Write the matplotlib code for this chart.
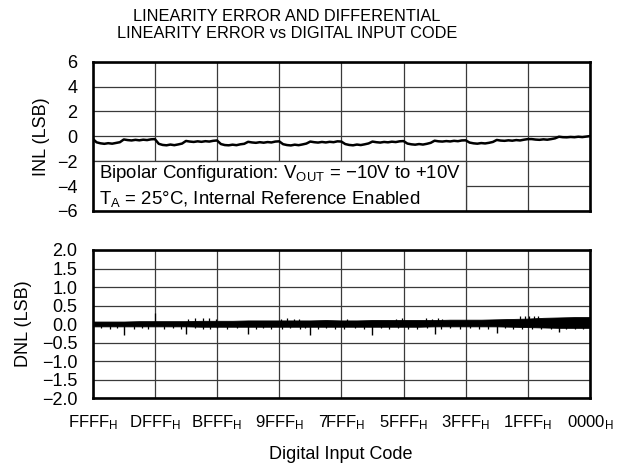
import numpy as np
import matplotlib
matplotlib.use("Agg")
import matplotlib.pyplot as plt
from matplotlib.patches import Rectangle

plt.rcParams['font.family'] = ['Liberation Sans', 'DejaVu Sans']
plt.rcParams['mathtext.fontset'] = 'custom'
plt.rcParams['mathtext.rm'] = 'Liberation Sans'
plt.rcParams['mathtext.it'] = 'Liberation Sans:italic'
plt.rcParams['mathtext.bf'] = 'Liberation Sans:bold'

# ---------------- data ----------------
tick_codes = [65535, 57343, 49151, 40959, 32767, 24575, 16383, 8191, 0]
tick_labels = ['FFFF', 'DFFF', 'BFFF', '9FFF', '7FFF', '5FFF', '3FFF', '1FFF', '0000']

inl_values = [
    -0.20, -0.48, -0.56, -0.60, -0.55, -0.59, -0.53, -0.47, -0.25, -0.30, -0.33, -0.28, -0.32, -0.27, -0.30, -0.24,
    -0.22, -0.60, -0.69, -0.72, -0.66, -0.71, -0.65, -0.58, -0.37, -0.42, -0.45, -0.40, -0.44, -0.39, -0.42, -0.36,
    -0.33, -0.62, -0.70, -0.72, -0.67, -0.71, -0.64, -0.60, -0.44, -0.49, -0.52, -0.47, -0.51, -0.46, -0.49, -0.42,
    -0.40, -0.63, -0.70, -0.73, -0.67, -0.71, -0.65, -0.58, -0.42, -0.47, -0.50, -0.45, -0.49, -0.44, -0.47, -0.40,
    -0.42, -0.62, -0.69, -0.72, -0.66, -0.70, -0.64, -0.57, -0.42, -0.47, -0.50, -0.45, -0.48, -0.43, -0.46, -0.40,
    -0.38, -0.58, -0.64, -0.67, -0.62, -0.66, -0.60, -0.52, -0.35, -0.40, -0.42, -0.38, -0.41, -0.36, -0.39, -0.33,
    -0.32, -0.50, -0.56, -0.59, -0.54, -0.57, -0.52, -0.45, -0.29, -0.34, -0.36, -0.32, -0.35, -0.30, -0.33, -0.27,
    -0.22, -0.22, -0.26, -0.28, -0.24, -0.27, -0.22, -0.16, -0.03, -0.07, -0.08, -0.05, -0.07, -0.03, -0.06, -0.02,
    0.02,
]
inl_codes = np.linspace(65535, 0, len(inl_values))

dnl_upper = [0.07, 0.07, 0.07, 0.08, 0.08, 0.08, 0.08, 0.09, 0.09, 0.09, 0.10, 0.10,
             0.10, 0.10, 0.10, 0.11, 0.10, 0.10, 0.11, 0.11, 0.11, 0.11, 0.11, 0.12,
             0.12, 0.12, 0.13, 0.14, 0.15, 0.17, 0.18, 0.19, 0.19]
dnl_lower = [-0.06, -0.06, -0.06, -0.06, -0.06, -0.06, -0.06, -0.07, -0.07, -0.07, -0.07, -0.07,
             -0.07, -0.07, -0.07, -0.07, -0.07, -0.07, -0.07, -0.07, -0.07, -0.07, -0.06, -0.06,
             -0.06, -0.06, -0.06, -0.07, -0.08, -0.09, -0.10, -0.10, -0.10]
dnl_env_codes = np.linspace(65535, 0, len(dnl_upper))

big_spike_codes = [61439, 53247, 45055, 36863, 28671, 20479, 12287, 4095]
big_spike_values = [-0.28, -0.27, -0.27, -0.28, -0.29, -0.27, -0.25, -0.22]

small_dn_codes = [64500, 63200, 62300, 60100, 59000, 58200, 56100, 55000, 53900, 52100, 51000,
                  50100, 49200, 47800, 46500, 44000, 43100, 42000, 40600, 39500, 38200, 37500,
                  35900, 34800, 33600, 32400, 31000, 29800, 27600, 26500, 25300, 24000, 22800,
                  21500, 19600, 18400, 17100, 15800, 14600, 13500, 11200, 10100, 9000, 7600,
                  6400, 5200, 3100, 2000, 900]
small_dn_values = [-0.11, -0.12, -0.10, -0.12, -0.11, -0.13, -0.12, -0.10, -0.12, -0.11, -0.13,
                   -0.12, -0.11, -0.12, -0.10, -0.12, -0.11, -0.13, -0.12, -0.11, -0.12, -0.10,
                   -0.12, -0.11, -0.13, -0.12, -0.11, -0.12, -0.10, -0.12, -0.11, -0.13, -0.12,
                   -0.11, -0.12, -0.10, -0.12, -0.11, -0.13, -0.12, -0.11, -0.12, -0.13, -0.12,
                   -0.13, -0.12, -0.13, -0.14, -0.13]

up_codes = [57343, 53000, 52000, 51000, 50200, 49300, 40700, 39900, 39000, 38400, 32000,
            25600, 24800, 21600, 20800, 20000, 19500, 9200, 8600, 8000, 7400, 6800]
up_values = [0.30, 0.15, 0.17, 0.16, 0.17, 0.15, 0.15, 0.16, 0.15, 0.14, 0.14,
             0.15, 0.16, 0.16, 0.15, 0.16, 0.15, 0.22, 0.22, 0.21, 0.22, 0.21]

# ---------------- figure ----------------
fig = plt.figure(figsize=(6.21, 4.70), dpi=100)
ax1 = fig.add_axes([0.1493, 0.5511, 0.8008, 0.3176])
ax2 = fig.add_axes([0.1493, 0.1526, 0.8008, 0.3155])

grid_kw = dict(color='#3a3a3a', linewidth=0.9)
for ax in (ax1, ax2):
    ax.set_xlim(65535, 0)
    ax.set_xticks(tick_codes)
    ax.set_axisbelow(True)
    ax.grid(True, **grid_kw)
    for s in ax.spines.values():
        s.set_linewidth(1.9)
        s.set_zorder(5)
    ax.tick_params(axis='both', length=0)
    ax.tick_params(axis='y', pad=11, labelsize=13)
    ax.tick_params(axis='x', labelsize=12)

ax1.set_xticklabels([])
ax2.set_xticklabels([r'$\mathrm{%s}_\mathrm{H}$' % t for t in tick_labels])
ax2.tick_params(axis='x', pad=11)

# INL
ax1.set_ylim(-6, 6)
ax1.set_yticks([-6, -4, -2, 0, 2, 4, 6])
ax1.plot(inl_codes, inl_values, color='black', linewidth=1.8, zorder=3)
box = Rectangle((65535, -6), -(65535 - 16383), 4, facecolor='white',
                edgecolor='#3a3a3a', linewidth=0.9, zorder=1)
ax1.add_patch(box)
ax1.text(0.012, -3, r'Bipolar Configuration: V$_\mathrm{OUT}$ = −10V to +10V',
         transform=ax1.get_yaxis_transform(), va='center', ha='left', fontsize=13.4, zorder=4)
ax1.text(0.012, -5, r'T$_\mathrm{A}$ = 25°C, Internal Reference Enabled',
         transform=ax1.get_yaxis_transform(), va='center', ha='left', fontsize=13.4, zorder=4)
ax1.set_ylabel('INL (LSB)', fontsize=13)
ax1.yaxis.set_label_coords(-0.086, 0.5)

# DNL
ax2.set_ylim(-2, 2)
dnl_ticks = [-2.0, -1.5, -1.0, -0.5, 0.0, 0.5, 1.0, 1.5, 2.0]
ax2.set_yticks(dnl_ticks)
ax2.set_yticklabels(['%.1f' % v if v >= 0 else '−%.1f' % abs(v) for v in dnl_ticks])
ax2.fill_between(dnl_env_codes, dnl_lower, dnl_upper, color='black', linewidth=0.6, zorder=3)
ax2.vlines(big_spike_codes, 0, big_spike_values, color='black', linewidth=1.0, zorder=3)
ax2.vlines(small_dn_codes, 0, small_dn_values, color='black', linewidth=0.9, zorder=3)
ax2.vlines(up_codes, 0, up_values, color='black', linewidth=0.9, zorder=3)
ax2.set_ylabel('DNL (LSB)', fontsize=13)
ax2.yaxis.set_label_coords(-0.122, 0.5)

fig.text(0.462, 1 - 21 / 470, 'LINEARITY ERROR AND DIFFERENTIAL', ha='center',
         va='baseline', fontsize=11.8)
fig.text(0.462, 1 - 38.5 / 470, 'LINEARITY ERROR vs DIGITAL INPUT CODE', ha='center',
         va='baseline', fontsize=11.8)
fig.text(341 / 621, 1 - 459 / 470, 'Digital Input Code', ha='center', va='baseline', fontsize=13)

fig.savefig('out.png', dpi=100)
